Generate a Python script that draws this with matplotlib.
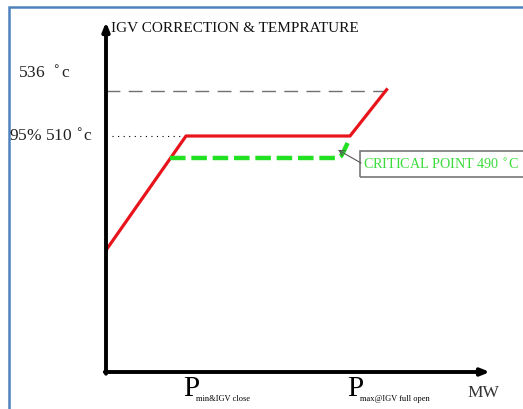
import matplotlib.pyplot as plt
from matplotlib.patches import Rectangle

# -----------------------------
# DATA (schematic: MW on x, temperature in degC on y)
# -----------------------------
red_mw = [0, 100, 305, 352]
red_temp = [444, 510, 510, 537.5]

green_mw = [80, 290, 294, 297, 305]
green_temp = [497.3, 497.3, 498.5, 501, 509]

limit_temp = 536
limit_mw_end = 352
igv_temp = 510
igv_mw_end = 100

p_min_mw = 100
p_max_mw = 305
critical_point = (290, 502)

# px -> data mapping for the full-figure axes
# x: 0 at pixel 106, 0.8 px per MW ; y: 510 at pixel 136, 45 px per 26 degC
W, H = 523, 409
sx = 0.8
sy = 45 / 26
x0 = -106 / sx
x1 = (W - 106) / sx
y_top = 510 + 136 / sy
y_bot = 510 - (H - 136) / sy
y_origin = 510 - (372 - 136) / sy
y_arrow = 510 + (136 - 22) / sy
x_arrow = (490 - 106) / sx

fig = plt.figure(figsize=(W / 100, H / 100), dpi=100)
ax = fig.add_axes([0, 0, 1, 1])
ax.set_xlim(x0, x1)
ax.set_ylim(y_bot, y_top)
ax.axis("off")

serif = "Liberation Serif"

# blue frame
ax.add_patch(Rectangle((0.018, -0.1), 1.2, 1.083, transform=ax.transAxes,
                       fill=False, edgecolor="#4f81bd", linewidth=1.8, clip_on=False))

# axes arrows
ax.annotate("", xy=(0, y_arrow), xytext=(0, y_origin - 1),
            arrowprops=dict(arrowstyle="-|>,head_length=0.5,head_width=0.2",
                            color="black", lw=2.8, shrinkA=0, shrinkB=0))
ax.annotate("", xy=(x_arrow, y_origin), xytext=(-1.5, y_origin),
            arrowprops=dict(arrowstyle="-|>,head_length=0.5,head_width=0.2",
                            color="black", lw=2.8, shrinkA=0, shrinkB=0))

# reference lines
ax.plot([0, limit_mw_end], [limit_temp, limit_temp], color="#707070", lw=1,
        dashes=(10, 6))
ax.plot([8, igv_mw_end], [igv_temp, igv_temp], color="black", lw=0.8,
        dashes=(1, 4))

# curves
ax.plot(red_mw, red_temp, color="#e8141c", lw=2.3, solid_capstyle="butt")
ax.plot(green_mw, green_temp, color="#22e022", lw=3.2, dashes=(3.5, 1.3),
        solid_joinstyle="round")

# texts
ax.text(6, y_arrow - 4, "IGV CORRECTION & TEMPRATURE", family=serif,
        fontsize=11, va="center", ha="left", color="#111111")
ax.text(x0 + 18 / sx, 546.5, r"536  $^{\circ}$c", family=serif, fontsize=12.5,
        va="center", ha="left", color="#222222")
ax.text(x0 + 9 / sx, igv_temp, r"95% 510 $^{\circ}$c", family=serif,
        fontsize=12.5, va="center", ha="left", color="#222222")

ax.text(p_min_mw + 6, y_origin - 10, "P", family=serif, fontsize=21,
        va="center", ha="center")
ax.text(p_min_mw + 13, y_origin - 15.5, "min&IGV close", family=serif,
        fontsize=6, va="center", ha="left")
ax.text(p_max_mw + 6, y_origin - 10, "P", family=serif, fontsize=21,
        va="center", ha="center")
ax.text(p_max_mw + 13, y_origin - 15.5, "max@IGV full open", family=serif,
        fontsize=6, va="center", ha="left")
ax.text((483 - 106) / sx, y_origin - 12, "MW", family=serif, fontsize=12.5,
        va="center", ha="center", color="#333333")

# critical point callout
ax.add_patch(Rectangle(((360 - 106) / sx, 510 - (177 - 136) / sy), 250,
                       26 / sy, fill=False, edgecolor="#777777", lw=1.2,
                       clip_on=True))
ax.text((363 - 106) / sx, 510 - (165 - 136) / sy, r"CRITICAL POINT 490 $^{\circ}$C",
        family=serif, fontsize=10.2, va="center", ha="left", color="#3ddc3d")
ax.annotate("", xy=critical_point, xytext=((361 - 106) / sx, 510 - (163 - 136) / sy),
            arrowprops=dict(arrowstyle="->", color="#555555", lw=0.8,
                            shrinkA=0, shrinkB=0))

fig.savefig("out.png", dpi=100)
